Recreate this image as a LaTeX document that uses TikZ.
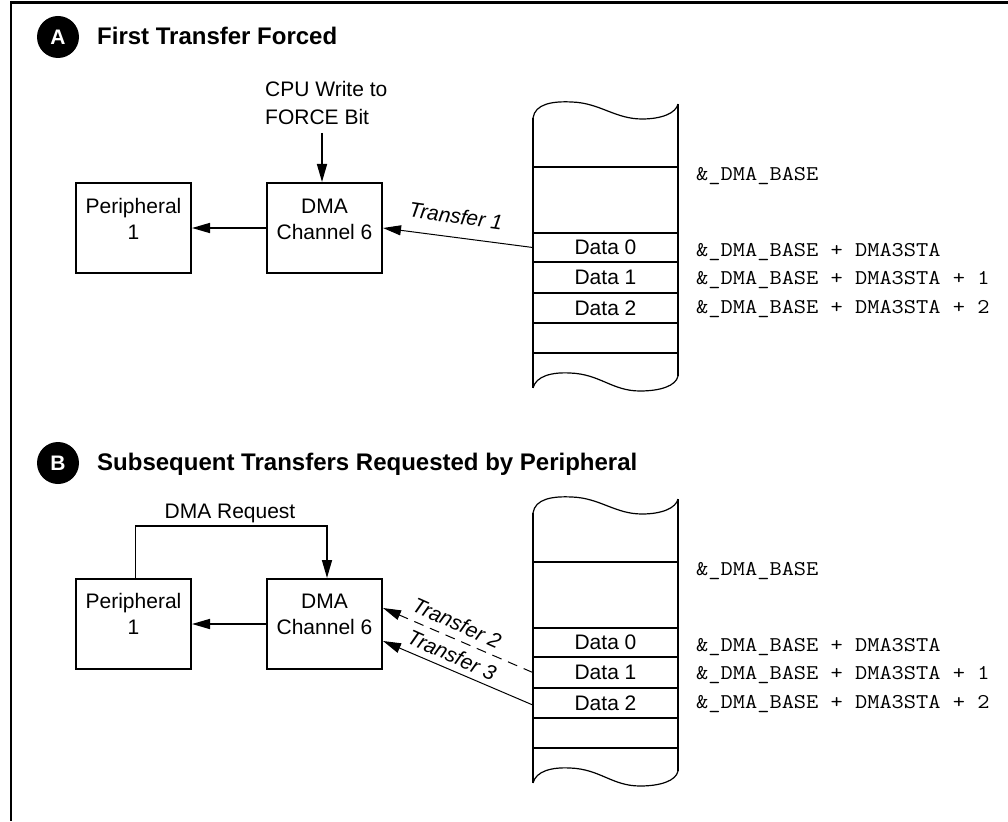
\documentclass[tikz,border=0pt]{standalone}
\usepackage{fontspec}
\setmainfont{Liberation Sans}
\newfontfamily\addrfont[FakeStretch=1.13]{Latin Modern Mono}
\usetikzlibrary{arrows.meta}
\begin{document}
\begin{tikzpicture}[x=1pt,y=-1pt,
  box/.style={draw, line width=2pt, minimum width=115pt, minimum height=90pt, inner sep=0pt},
  txt/.style={font=\fontsize{21}{25}\selectfont, inner sep=0pt},
  title/.style={font=\bfseries\fontsize{24}{28}\selectfont, anchor=base west, inner sep=0pt},
  badge/.style={circle, fill=black, text=white, minimum size=42pt, inner sep=0pt, font=\bfseries\fontsize{21}{24}\selectfont},
  addr/.style={font=\addrfont\fontsize{21}{24}\selectfont, anchor=base west, inner sep=0pt},
  cell/.style={minimum width=145pt, inner sep=0pt, font=\fontsize{21}{24}\selectfont},
  xfer/.style={font=\itshape\fontsize{21}{24}\selectfont, inner sep=0pt},
  arr/.style={line width=1.6pt, -{Triangle[length=18pt,width=10pt]}},
  tarr/.style={line width=1pt, -{Triangle[length=18pt,width=10pt]}},
  memline/.style={line width=2pt},
  wave/.style={line width=1.2pt},
]
\useasboundingbox (0,0) rectangle (1008,821);
% frame
\draw[line width=3pt] (11,2.5) -- (1008,2.5);
\draw[line width=2.5pt] (11,1) -- (11,821);

% ---------- Section A ----------
\node[badge] (bA) at (58,37) {A};
\node[title] (tA) at (97,45) {First Transfer Forced};

\node[box] (perA) at (133.5,228) {};
\node[txt, anchor=base] (perAt1) at (133.5,213) {Peripheral};
\node[txt, anchor=base] (perAt2) at (133.5,239) {1};
\node[box] (dmaA) at (324.5,228) {};
\node[txt, anchor=base] (dmaAt1) at (324.5,213) {DMA};
\node[txt, anchor=base] (dmaAt2) at (324.5,239) {Channel 6};

\node[txt, anchor=base west] (cpu1) at (265,97) {CPU Write to};
\node[txt, anchor=base west] (cpu2) at (265,125) {FORCE Bit};
\coordinate (cpuend) at (322,133);
\draw[arr] (cpuend) -- (dmaA.north -| cpuend);
\draw[arr] (dmaA.west) -- (perA.east);

% memory A
\draw[memline] (533,118) -- (533,388);
\draw[memline] (678,104) -- (678,376);
\draw[wave] (533,118) .. controls (535,104) and (552,101) .. (572,102)
  .. controls (600,103) and (615,119) .. (642,119)
  .. controls (662,119) and (676,113) .. (678,104);
\draw[wave] (533,388) .. controls (536,376) and (552,372) .. (570,373)
  .. controls (600,374) and (612,391) .. (640,391)
  .. controls (660,391) and (676,386) .. (678,376);
\foreach \yy in {167,233,262,293,323,353} \draw[memline] (533,\yy) -- (678,\yy);
\node[cell, minimum height=29pt] (d0A) at (605.5,247.5) {Data 0};
\node[cell, minimum height=31pt] (d1A) at (605.5,277.5) {Data 1};
\node[cell, minimum height=30pt] (d2A) at (605.5,308) {Data 2};

\node[addr] (aA0) at (696,180) {\&\_DMA\_BASE};
\node[addr] (aA1) at (696,256) {\&\_DMA\_BASE + DMA3STA};
\node[addr] (aA2) at (696,284) {\&\_DMA\_BASE + DMA3STA + 1};
\node[addr] (aA3) at (696,313) {\&\_DMA\_BASE + DMA3STA + 2};

\draw[tarr] (d0A.west) -- (dmaA.east);
\node[xfer, rotate=-8] (x1) at (456,216) {Transfer 1};

% ---------- Section B ----------
\node[badge] (bB) at (58,463) {B};
\node[title] (tB) at (97,470) {Subsequent Transfers Requested by Peripheral};

\node[box] (perB) at (133.5,624) {};
\node[txt, anchor=base] (perBt1) at (133.5,608) {Peripheral};
\node[txt, anchor=base] (perBt2) at (133.5,634) {1};
\node[box] (dmaB) at (324.5,624) {};
\node[txt, anchor=base] (dmaBt1) at (324.5,608) {DMA};
\node[txt, anchor=base] (dmaBt2) at (324.5,634) {Channel 6};

\node[txt] (req) at (230,513) {DMA Request};
\draw[line width=1.6pt, -{Triangle[length=18pt,width=10pt]}]
  ([xshift=2pt]perB.north) -- ++(0,-52) -| ([xshift=2.5pt]dmaB.north);
\draw[arr] (dmaB.west) -- (perB.east);

% memory B
\begin{scope}[yshift=-395pt]
\draw[memline] (533,118) -- (533,388);
\draw[memline] (678,104) -- (678,376);
\draw[wave] (533,118) .. controls (535,104) and (552,101) .. (572,102)
  .. controls (600,103) and (615,119) .. (642,119)
  .. controls (662,119) and (676,113) .. (678,104);
\draw[wave] (533,388) .. controls (536,376) and (552,372) .. (570,373)
  .. controls (600,374) and (612,391) .. (640,391)
  .. controls (660,391) and (676,386) .. (678,376);
\foreach \yy in {167,233,262,293,323,353} \draw[memline] (533,\yy) -- (678,\yy);
\node[cell, minimum height=29pt] (d0B) at (605.5,247.5) {Data 0};
\node[cell, minimum height=31pt] (d1B) at (605.5,277.5) {Data 1};
\node[cell, minimum height=30pt] (d2B) at (605.5,308) {Data 2};

\node[addr] (aB0) at (696,180) {\&\_DMA\_BASE};
\node[addr] (aB1) at (696,256) {\&\_DMA\_BASE + DMA3STA};
\node[addr] (aB2) at (696,284) {\&\_DMA\_BASE + DMA3STA + 1};
\node[addr] (aB3) at (696,313) {\&\_DMA\_BASE + DMA3STA + 2};
\end{scope}

\draw[tarr, dash pattern=on 10pt off 7pt] (d1B.west) -- ([yshift=16pt]dmaB.east);
\draw[tarr] ([yshift=-2pt]d2B.west) -- ([yshift=-17pt]dmaB.east);
\node[xfer, rotate=-24] (x2) at (457,623) {Transfer 2};
\node[xfer, rotate=-24] (x3) at (452,655) {Transfer 3};
\end{tikzpicture}
\end{document}
